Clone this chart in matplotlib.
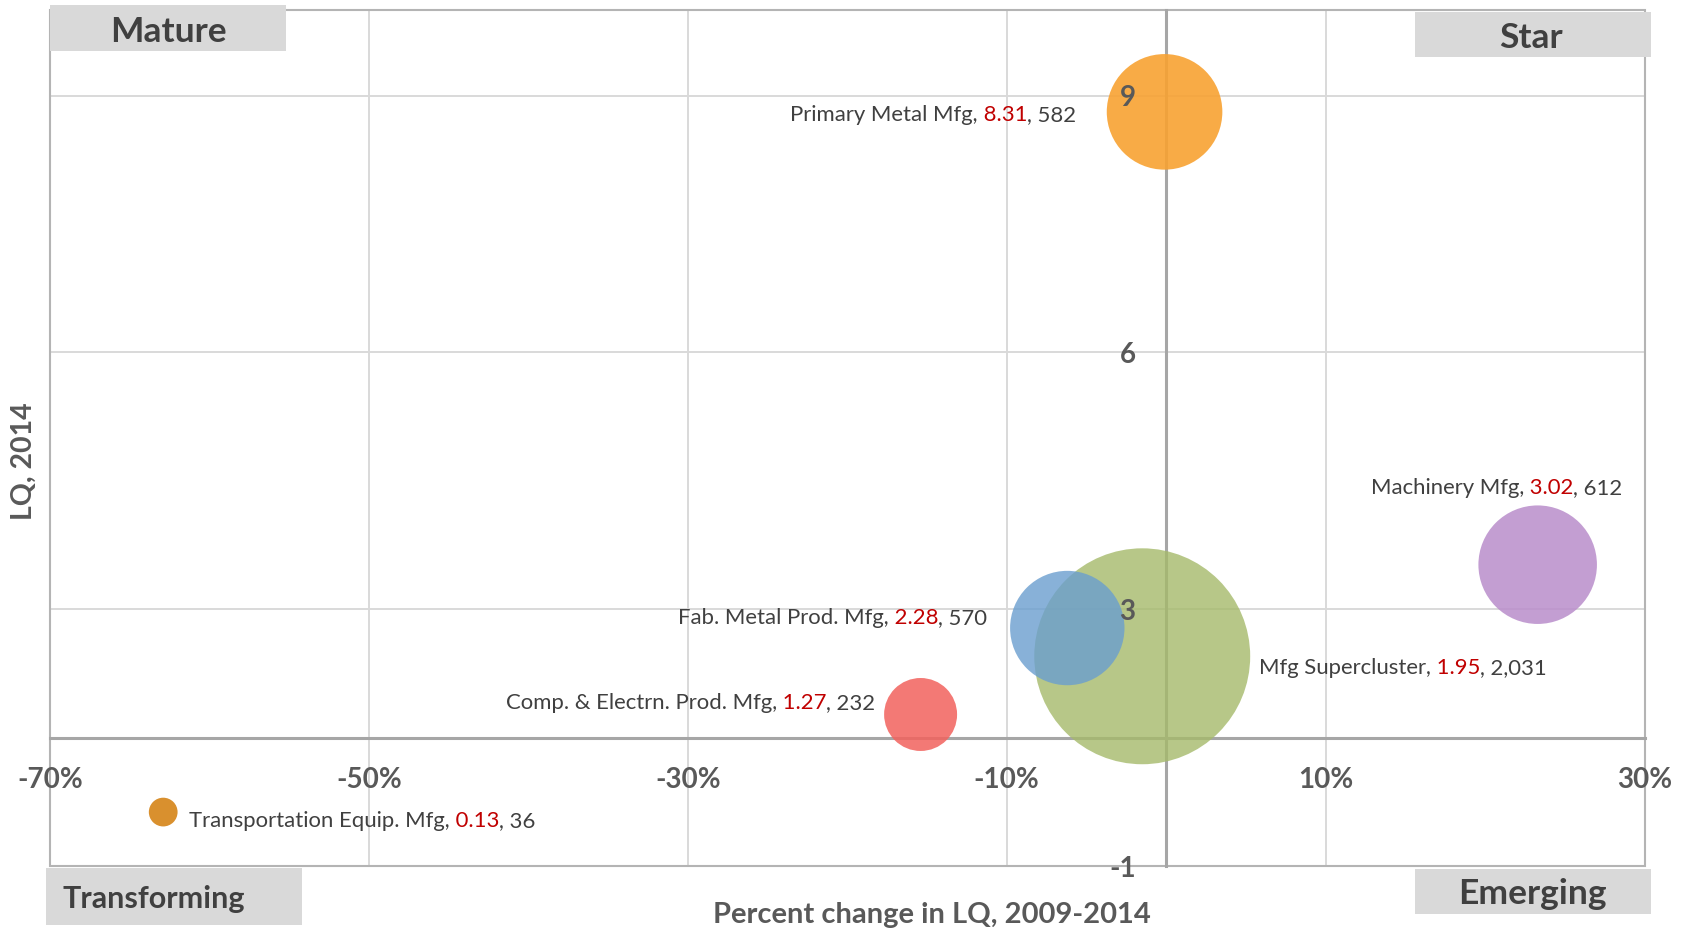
import matplotlib
matplotlib.use("Agg")
import matplotlib.pyplot as plt
from matplotlib.patches import Rectangle

# ---------------- data ----------------
industries = ["Primary Metal Mfg", "Machinery Mfg", "Mfg Supercluster",
              "Fab. Metal Prod. Mfg", "Comp. & Electrn. Prod. Mfg",
              "Transportation Equip. Mfg"]
pct_change = [-0.1, 23.3, -1.5, -6.2, -15.4, -62.9]      # % change in LQ 2009-2014
lq_2014 = [8.31, 3.02, 1.95, 2.28, 1.27, 0.13]
employment = [582, 612, 2031, 570, 232, 36]

x_ticks = [-70, -50, -30, -10, 10, 30]
x_tick_labels = ["-70%", "-50%", "-30%", "-10%", "10%", "30%"]
y_ticks = [-0.5, 2.5, 5.5, 8.5]
y_tick_labels = ["-1", "3", "6", "9"]
quadrant_names = ["Mature", "Star", "Transforming", "Emerging"]

# ---------------- style ----------------
W, H = 1691, 930
FONT = ["Lato", "DejaVu Sans"]
bubble_colors = ["#F8A232", "#B98DCB", "#A5BA6A", "#6A9ECF", "#F2625D", "#D9902E"]
bubble_alpha = [0.9, 0.85, 0.8, 0.8, 0.85, 1.0]
BUBBLE_SCALE = 11.9
# label placement: (ha, dx px, dy px) relative to bubble centre
label_place = [("right", -88, -3), ("center", -41, 77), ("left", 117, -12),
               ("right", -80, 10), ("right", -45, 11), ("left", 26, -9)]
TEXT_C = "#404040"
NUM_C = "#C00000"
AXIS_C = "#595959"

plt.rcParams["font.family"] = FONT
fig = plt.figure(figsize=(W / 100, H / 100), dpi=100)
ax = fig.add_axes([50 / W, 1 - 866 / H, (1644.5 - 50) / W, (866 - 10) / H])
ax.set_xlim(x_ticks[0], x_ticks[-1])
ax.set_ylim(y_ticks[0], y_ticks[-1] + 1.0)

# gridlines
for xv in x_ticks:
    ax.axvline(xv, color="#D9D9D9", lw=1.4, zorder=0.3)
for yv in y_ticks:
    ax.axhline(yv, color="#D9D9D9", lw=1.4, zorder=0.3)

# plot-area border
ax.add_patch(Rectangle((0, 0), 1, 1, transform=ax.transAxes, fill=False,
                       edgecolor="#B4B4B4", lw=1.5, zorder=0.4, clip_on=False))

# axes crossing at x=0 and y=1
for side in ["top", "right"]:
    ax.spines[side].set_visible(False)
ax.spines["left"].set_position(("data", 0))
ax.spines["bottom"].set_position(("data", 1))
for side in ["left", "bottom"]:
    ax.spines[side].set_color("#A6A6A6")
    ax.spines[side].set_linewidth(2.2)
    ax.spines[side].set_zorder(0.5)

ax.set_xticks(x_ticks)
ax.set_xticklabels(x_tick_labels)
ax.set_yticks(y_ticks)
ax.set_yticklabels(y_tick_labels)
ax.tick_params(axis="both", length=0, labelcolor=AXIS_C, labelsize=20)
ax.tick_params(axis="x", pad=21)
ax.tick_params(axis="y", pad=22)
for lab in ax.get_xticklabels() + ax.get_yticklabels():
    lab.set_fontweight("bold")
ax.xaxis.set_zorder(5)
ax.yaxis.set_zorder(5)

# bubbles
for i in range(len(industries)):
    ax.scatter(pct_change[i], lq_2014[i], s=employment[i] * BUBBLE_SCALE,
               color=bubble_colors[i], alpha=bubble_alpha[i], edgecolors="none",
               zorder=1 + i * 0.1)

# rich data labels
renderer = fig.canvas.get_renderer()
lab_kw = dict(fontsize=15.9, family=FONT)


def text_width(s):
    t = fig.text(0, 0, s, **lab_kw)
    w = t.get_window_extent(renderer).width
    t.remove()
    return w


for i in range(len(industries)):
    parts = [(industries[i] + ",", TEXT_C),
             (" " + f"{lq_2014[i]:.2f}", NUM_C),
             (", " + f"{employment[i]:,}", TEXT_C)]
    widths = [text_width(p[0]) for p in parts]
    total = sum(widths)
    ha, dx, dy = label_place[i]
    start = dx if ha == "left" else (dx - total if ha == "right" else dx - total / 2)
    cum = 0
    for (s, c), w in zip(parts, widths):
        ax.annotate(s, xy=(pct_change[i], lq_2014[i]), xycoords="data",
                    xytext=(start + cum, dy), textcoords="offset pixels",
                    ha="left", va="center", color=c, zorder=6, **lab_kw)
        cum += w

# axis titles
fig.text(932 / W, 1 - 915 / H, "Percent change in LQ, 2009-2014", ha="center",
         va="center", fontsize=21, fontweight="bold", color=AXIS_C)
fig.text(24 / W, 1 - 461 / H, "LQ, 2014", ha="center", va="center", rotation=90,
         fontsize=20.5, fontweight="bold", color=AXIS_C)

# quadrant label boxes (x0, y0, x1, y1 in px from top-left)
quad_boxes = [(49.6, 5.4, 285.8, 50.7), (1415, 12, 1651, 57.5),
              (46.4, 868, 302, 925), (1415, 868.5, 1651, 914)]
quad_text_x = [168, 1531, 154, 1532]
quad_text_y = [32, 38, 899, 894]
quad_font = [25.5, 25.5, 22, 25.5]
for name, (x0, y0, x1, y1), tx, ty, fs in zip(quadrant_names, quad_boxes,
                                              quad_text_x, quad_text_y, quad_font):
    fig.add_artist(Rectangle((x0 / W, 1 - y1 / H), (x1 - x0) / W, (y1 - y0) / H,
                             transform=fig.transFigure, facecolor="#D9D9D9",
                             edgecolor="none", zorder=3))
    fig.text(tx / W, 1 - ty / H, name, ha="center", va="center",
             fontsize=fs, fontweight="bold", color="#404040", zorder=4)

fig.savefig("out.png", dpi=100)
